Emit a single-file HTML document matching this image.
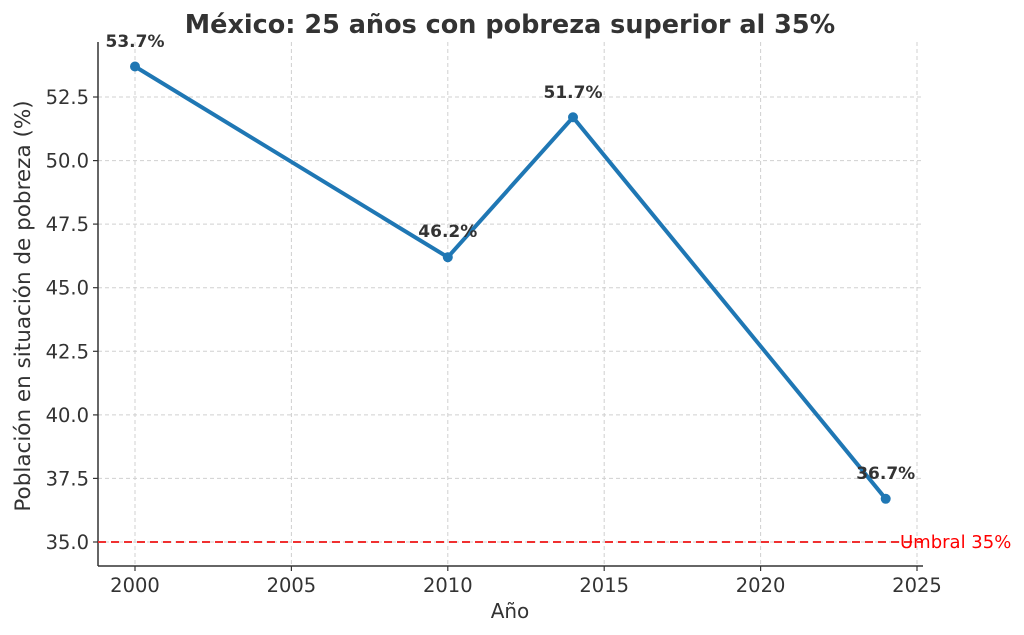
<!DOCTYPE html>
<html><head><meta charset="utf-8"><style>body{margin:0;background:#fff}svg{display:block}</style></head>
<body>
<svg width="1024" height="635" xmlns="http://www.w3.org/2000/svg" font-family="DejaVu Sans, Liberation Sans, sans-serif">
<g stroke="#d0d0d0" stroke-width="1" stroke-dasharray="4,3">
<line x1="135" y1="42" x2="135" y2="566"/><line x1="291.4" y1="42" x2="291.4" y2="566"/>
<line x1="447.8" y1="42" x2="447.8" y2="566"/><line x1="604.2" y1="42" x2="604.2" y2="566"/>
<line x1="760.6" y1="42" x2="760.6" y2="566"/><line x1="917" y1="42" x2="917" y2="566"/>
<line x1="98" y1="542" x2="923" y2="542"/><line x1="98" y1="478.4" x2="923" y2="478.4"/>
<line x1="98" y1="414.9" x2="923" y2="414.9"/><line x1="98" y1="351.3" x2="923" y2="351.3"/>
<line x1="98" y1="287.7" x2="923" y2="287.7"/><line x1="98" y1="224.1" x2="923" y2="224.1"/>
<line x1="98" y1="160.6" x2="923" y2="160.6"/><line x1="98" y1="97" x2="923" y2="97"/>
</g>
<line x1="98" y1="42" x2="98" y2="566" stroke="#333" stroke-width="1.5"/>
<line x1="98" y1="566" x2="923" y2="566" stroke="#333" stroke-width="1.5"/>
<g stroke="#333" stroke-width="1.2">
<line x1="135" y1="566" x2="135" y2="571"/><line x1="291.4" y1="566" x2="291.4" y2="571"/><line x1="447.8" y1="566" x2="447.8" y2="571"/><line x1="604.2" y1="566" x2="604.2" y2="571"/><line x1="760.6" y1="566" x2="760.6" y2="571"/><line x1="917" y1="566" x2="917" y2="571"/>
<line x1="93" y1="542" x2="98" y2="542"/><line x1="93" y1="478.4" x2="98" y2="478.4"/><line x1="93" y1="414.9" x2="98" y2="414.9"/><line x1="93" y1="351.3" x2="98" y2="351.3"/><line x1="93" y1="287.7" x2="98" y2="287.7"/><line x1="93" y1="224.1" x2="98" y2="224.1"/><line x1="93" y1="160.6" x2="98" y2="160.6"/><line x1="93" y1="97" x2="98" y2="97"/>
</g>
<g font-size="19.5" fill="#333" text-anchor="middle">
<text x="135" y="592">2000</text><text x="291.4" y="592">2005</text><text x="447.8" y="592">2010</text><text x="604.2" y="592">2015</text><text x="760.6" y="592">2020</text><text x="917" y="592">2025</text>
</g>
<g font-size="19.5" fill="#333" text-anchor="end">
<text x="89" y="549">35.0</text><text x="89" y="485.4">37.5</text><text x="89" y="421.9">40.0</text><text x="89" y="358.3">42.5</text><text x="89" y="294.7">45.0</text><text x="89" y="231.1">47.5</text><text x="89" y="167.6">50.0</text><text x="89" y="104">52.5</text>
</g>
<text x="510" y="618" font-size="20" fill="#333" text-anchor="middle">Año</text>
<text transform="translate(30,306) rotate(-90)" font-size="21.5" fill="#333" text-anchor="middle">Población en situación de pobreza (%)</text>
<text x="510" y="33" font-size="25.5" font-weight="bold" fill="#333" text-anchor="middle">México: 25 años con pobreza superior al 35%</text>
<line x1="98" y1="542" x2="923" y2="542" stroke="#f03030" stroke-width="2" stroke-dasharray="8,5"/>
<text x="900" y="548" font-size="18" fill="#f00">Umbral 35%</text>
<polyline points="135,66.5 447.8,257.2 573,117.3 885.7,498.8" fill="none" stroke="#1f77b4" stroke-width="4" stroke-linejoin="round"/>
<g fill="#1f77b4"><circle cx="135" cy="66.5" r="5"/><circle cx="447.8" cy="257.2" r="5"/><circle cx="573" cy="117.3" r="5"/><circle cx="885.7" cy="498.8" r="5"/></g>
<g font-size="17" font-weight="bold" fill="#333" text-anchor="middle">
<text x="135" y="47">53.7%</text><text x="447.8" y="237">46.2%</text><text x="573" y="98">51.7%</text><text x="885.7" y="479">36.7%</text>
</g>
</svg>
</body></html>
